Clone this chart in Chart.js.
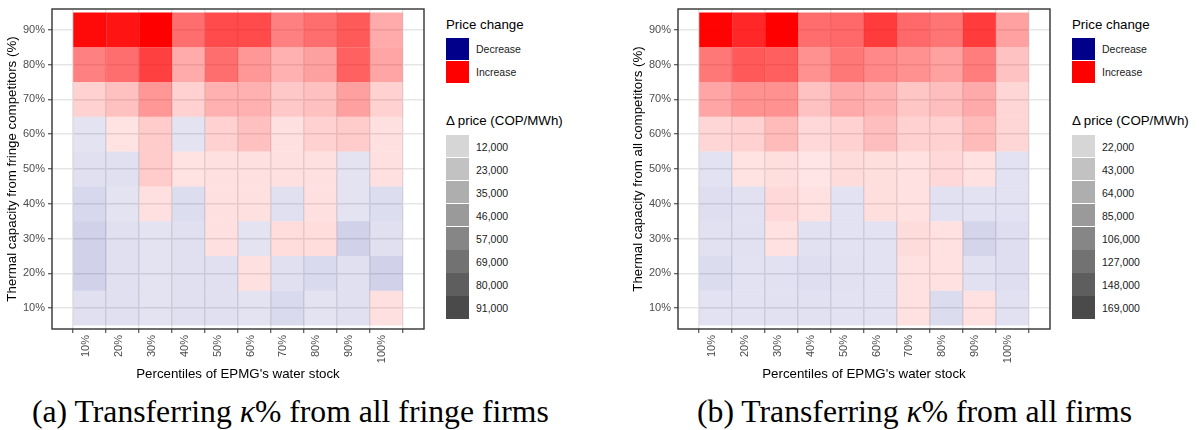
<!DOCTYPE html>
<html>
<head>
<meta charset="utf-8">
<script src="https://cdn.jsdelivr.net/npm/chart.js@4.4.1/dist/chart.umd.min.js"></script>
<style>
  body { margin: 0; background: #fff; font-family: "Liberation Sans", Arial, sans-serif; }
  #page { position: relative; width: 1199px; height: 430px; overflow: hidden; }
  .panel { position: absolute; top: 0; }
  .legend { position: absolute; top: 0; width: 130px; height: 330px; }
  .lg-title { position: absolute; left: 0; font-size: 13.3px; line-height: 16px; white-space: nowrap; color: #000; }
  .lg-key { position: absolute; left: 0; width: 23px; }
  .lg-label { position: absolute; font-size: 10.5px; line-height: 14px; white-space: nowrap; color: #1a1a1a; }
  .caption { position: absolute; top: 397px; font-family: "Liberation Serif", "DejaVu Serif", serif;
             font-size: 31.7px; line-height: 30px; white-space: nowrap; color: #000; }
</style>
</head>
<body>
<div id="page">
  <div class="panel" style="left:0px"><canvas id="chartFringe" width="430" height="386"></canvas></div>
  <div class="legend" id="legendFringe" style="left:446px"></div>
  <div class="panel" style="left:626px"><canvas id="chartAll" width="430" height="386"></canvas></div>
  <div class="legend" id="legendAll" style="left:1072px"></div>
  <div class="caption" style="left:32px">(a) Transferring <i>κ</i>% from all fringe firms</div>
  <div class="caption" style="left:697px">(b) Transferring <i>κ</i>% from all firms</div>
</div>
<script>
// x: percentiles of the water stock, y: share of thermal capacity transferred
const waterStock = ['10%', '20%', '30%', '40%', '50%', '60%', '70%', '80%', '90%', '100%'];
const thermalCap = [90, 80, 70, 60, 50, 40, 30, 20, 10]; // rows, top to bottom

// price change in COP/MWh (negative = decrease), rows follow thermalCap
const priceFringe = [
    [88000, 84000, 91000, 53000, 65000, 65000, 47000, 53000, 60000, 32000],
    [47000, 53000, 69000, 32000, 53000, 39000, 30000, 36000, 58000, 34000],
    [19000, 25000, 39000, 19000, 30000, 30000, 22000, 25000, 36000, 19000],
    [-13000, 13000, 21000, -13000, 19000, 25000, 14000, 19000, 21000, 14000],
    [-14000, -14000, 21000, 13000, 14000, 14000, 14000, 14000, -13000, 14000],
    [-17000, -13000, 14000, -15000, 14000, 14000, -14000, 14000, -13000, -15000],
    [-19000, -14000, -13000, -14000, 14000, -13000, 15000, 15000, -19000, -14000],
    [-19000, -14000, -13000, -14000, -14000, 14000, -14000, -16000, -14000, -19000],
    [-14000, -14000, -13000, -14000, -14000, -13000, -16000, -13000, -14000, 14000],
];
const priceAll = [
    [167000, 144000, 169000, 99000, 102000, 131000, 102000, 95000, 131000, 66000],
    [92000, 112000, 108000, 76000, 92000, 82000, 76000, 66000, 89000, 45000],
    [63000, 76000, 76000, 45000, 60000, 55000, 42000, 47000, 60000, 32000],
    [32000, 35000, 50000, 30000, 35000, 47000, 35000, 35000, 50000, 32000],
    [-24000, 24000, 27000, 22000, 28000, 27000, 25000, 30000, 25000, -24000],
    [-27000, -25000, 30000, 25000, -24000, 27000, 25000, -25000, -24000, -24000],
    [-25000, -25000, 25000, -25000, -24000, -24000, 28000, 25000, -33000, -27000],
    [-28000, -24000, -25000, -27000, -25000, -24000, 25000, 25000, -25000, -27000],
    [-24000, -24000, -25000, -25000, -24000, -24000, 25000, -28000, 25000, -25000],
];

// alpha legend breaks
const breaksFringe = [12000, 23000, 35000, 46000, 57000, 69000, 80000, 91000];
const breaksAll = [22000, 43000, 64000, 85000, 106000, 127000, 148000, 169000];
const signLabels = ['Decrease', 'Increase'];

const RED = [255, 0, 0];
const NAVY = [0, 0, 139];

Chart.defaults.font.family = '"Liberation Sans", Arial, sans-serif';

function tileAlpha(v, breaks) {
    const lo = breaks[0], hi = breaks[breaks.length - 1];
    let t = (Math.abs(v) - lo) / (hi - lo);
    t = Math.max(0, Math.min(1, t));
    return 0.1 + 0.9 * t;
}

function tileColor(v, breaks) {
    const c = v < 0 ? NAVY : RED;
    return `rgba(${c[0]},${c[1]},${c[2]},${tileAlpha(v, breaks).toFixed(3)})`;
}

// panel border like ggplot theme_bw
const panelBorder = {
    id: 'panelBorder',
    afterDatasetsDraw(chart) {
        const { ctx, chartArea: a } = chart;
        ctx.save();
        ctx.strokeStyle = '#333333';
        ctx.lineWidth = 1.4;
        ctx.strokeRect(a.left, a.top, a.right - a.left, a.bottom - a.top);
        ctx.restore();
    }
};

function makeHeatmap(canvasId, values, breaks, yTitle) {
    const datasets = thermalCap.map((cap, r) => ({
        data: waterStock.map((_, c) => ({ x: c + 1, y: [cap - 5, cap + 5] })),
        backgroundColor: values[r].map(v => tileColor(v, breaks)),
        borderWidth: 0,
        grouped: false,
        barPercentage: 1,
        categoryPercentage: 1,
        inflateAmount: 0,
    }));

    return new Chart(document.getElementById(canvasId), {
        type: 'bar',
        data: { datasets },
        options: {
            responsive: false,
            animation: false,
            layout: { padding: { left: 0, top: 9, right: 6, bottom: 0 } },
            plugins: { legend: { display: false }, tooltip: { enabled: false } },
            scales: {
                x: {
                    type: 'linear',
                    min: 0.42,
                    max: 10.58,
                    afterBuildTicks: (scale) => { scale.ticks = waterStock.map((_, i) => ({ value: i + 1 })); },
                    afterFit: (scale) => { scale.height = 57; scale.paddingLeft = 0; scale.paddingRight = 0; },
                    grid: { color: '#e5e5e5', lineWidth: 1.5, tickColor: '#333333', tickLength: 4, tickWidth: 1 },
                    border: { display: false },
                    ticks: {
                        autoSkip: false,
                        minRotation: 90,
                        maxRotation: 90,
                        padding: 2,
                        labelOffset: -4,
                        color: '#4d4d4d',
                        font: { size: 11 },
                        callback: (v, i) => waterStock[i],
                    },
                    title: { display: true, text: "Percentiles of EPMG's water stock", color: '#000', font: { size: 13.3 } },
                },
                y: {
                    type: 'linear',
                    min: 4,
                    max: 96,
                    afterBuildTicks: (scale) => { scale.ticks = [...thermalCap].reverse().map(v => ({ value: v })); },
                    afterFit: (scale) => { scale.width = 52; scale.paddingTop = 0; scale.paddingBottom = 0; },
                    grid: { color: '#e5e5e5', lineWidth: 1.5, tickColor: '#333333', tickLength: 4, tickWidth: 1 },
                    border: { display: false },
                    ticks: {
                        padding: 3,
                        color: '#4d4d4d',
                        font: { size: 11 },
                        callback: (v) => v + '%',
                    },
                    title: { display: true, text: yTitle, color: '#000', font: { size: 13.3 } },
                },
            },
        },
        plugins: [panelBorder],
    });
}

function buildLegend(id, breaks) {
    const box = document.getElementById(id);
    let html = '<div class="lg-title" style="top:17px">Price change</div>';
    [NAVY, RED].forEach((c, i) => {
        const top = 38 + i * 23;
        html += `<div class="lg-key" style="top:${top}px;height:22px;background:rgb(${c.join(',')})"></div>`;
        html += `<div class="lg-label" style="left:30px;top:${top + 4}px">${signLabels[i]}</div>`;
    });
    html += '<div class="lg-title" style="top:113px">&Delta; price (COP/MWh)</div>';
    breaks.forEach((b, i) => {
        const top = 135 + i * 23;
        const g = 214 - 20 * i;
        const h = i < 4 ? 22 : 23;
        html += `<div class="lg-key" style="top:${top}px;height:${h}px;background:rgb(${g},${g},${g})"></div>`;
        html += `<div class="lg-label" style="left:30px;top:${top + 4.5}px">${b.toLocaleString('en-US')}</div>`;
    });
    box.innerHTML = html;
}

makeHeatmap('chartFringe', priceFringe, breaksFringe, 'Thermal capacity from fringe competitors (%)');
makeHeatmap('chartAll', priceAll, breaksAll, 'Thermal capacity from all competitors (%)');
buildLegend('legendFringe', breaksFringe);
buildLegend('legendAll', breaksAll);
</script>
</body>
</html>
